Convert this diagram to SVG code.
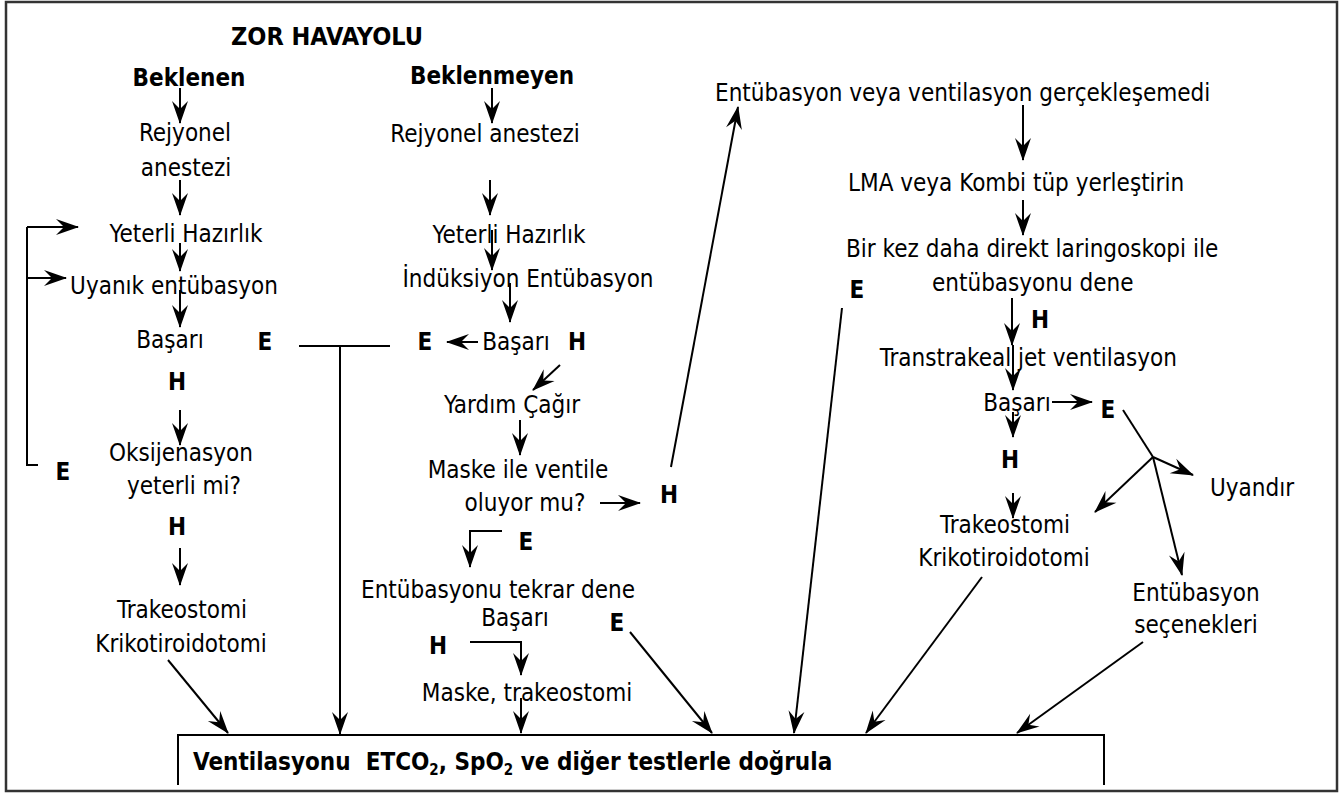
<svg xmlns="http://www.w3.org/2000/svg" width="1341" height="796" viewBox="0 0 1341 796">
<style>
text{font-family:"DejaVu Sans Condensed","DejaVu Sans",sans-serif;font-size:24px;fill:#000;text-anchor:middle}
.b{font-weight:bold}
.s{text-anchor:start}
.e{text-anchor:end}
.ln{stroke:#000;stroke-width:2;fill:none}
.ar{stroke:#000;stroke-width:2;fill:none;marker-end:url(#ah)}
</style>
<defs>
<marker id="ah" markerUnits="userSpaceOnUse" markerWidth="26" markerHeight="20" viewBox="-23 -10 25 20" refX="0" refY="0" orient="auto">
<path d="M1,0 L-22,-8 L-14,0 L-22,8 Z" fill="#000"/>
</marker>
</defs>
<rect x="6" y="2" width="1331" height="789" fill="#fff" stroke="#333" stroke-width="2.5"/>

<g id="title"><text x="327" y="45" class="b" style="font-size:25px">ZOR HAVAYOLU</text></g>

<g id="beklenen"><text x="189" y="86" class="b">Beklenen</text></g>
<g id="l-rejyonel"><text x="185" y="141">Rejyonel</text><text x="186" y="176">anestezi</text></g>
<g id="l-yeterli"><text x="186" y="242">Yeterli Hazırlık</text></g>
<g id="l-uyanik"><text x="174" y="294">Uyanık entübasyon</text></g>
<g id="l-basari"><text x="170" y="348">Başarı</text></g>
<g id="l-e1"><text x="265" y="350" class="b">E</text></g>
<g id="l-h1"><text x="177" y="390" class="b">H</text></g>
<g id="l-oksi"><text x="181" y="461">Oksijenasyon</text><text x="184" y="494">yeterli mi?</text></g>
<g id="l-e2"><text x="63" y="480" class="b">E</text></g>
<g id="l-h2"><text x="177" y="535" class="b">H</text></g>
<g id="l-trakeo"><text x="182" y="618">Trakeostomi</text><text x="181" y="652">Krikotiroidotomi</text></g>

<g id="beklenmeyen"><text x="492" y="84" class="b">Beklenmeyen</text></g>
<g id="m-rejyonel"><text x="485" y="142">Rejyonel anestezi</text></g>
<g id="m-yeterli"><text x="509" y="243">Yeterli Hazırlık</text></g>
<g id="m-induksiyon"><text x="528" y="287">İndüksiyon Entübasyon</text></g>
<g id="m-e1"><text x="425" y="350" class="b">E</text></g>
<g id="m-basari"><text x="516" y="350">Başarı</text></g>
<g id="m-h1"><text x="577" y="350" class="b">H</text></g>
<g id="m-yardim"><text x="512" y="413">Yardım Çağır</text></g>
<g id="m-maske"><text x="518" y="478">Maske ile ventile</text><text x="525" y="511">oluyor mu?</text></g>
<g id="m-h2"><text x="669" y="503" class="b">H</text></g>
<g id="m-e2"><text x="526" y="550" class="b">E</text></g>
<g id="m-tekrar"><text x="498" y="598">Entübasyonu tekrar dene</text><text x="515" y="626">Başarı</text></g>
<g id="m-e3"><text x="617" y="631" class="b">E</text></g>
<g id="m-h3"><text x="438" y="654" class="b">H</text></g>
<g id="m-maske2"><text x="527" y="701">Maske, trakeostomi</text></g>

<g id="r-gerc"><text x="715" y="101" class="s">Entübasyon veya ventilasyon gerçekleşemedi</text></g>
<g id="r-lma"><text x="848" y="191" class="s">LMA veya Kombi tüp yerleştirin</text></g>
<g id="r-bir"><text x="846" y="257" class="s">Bir kez daha direkt laringoskopi ile</text><text x="932" y="291" class="s">entübasyonu dene</text></g>
<g id="r-e1"><text x="857" y="298" class="b">E</text></g>
<g id="r-h1"><text x="1040" y="328" class="b">H</text></g>
<g id="r-trans"><text x="1177" y="366" class="e">Transtrakeal jet ventilasyon</text></g>
<g id="r-basari"><text x="1017" y="411">Başarı</text></g>
<g id="r-e2"><text x="1108" y="418" class="b">E</text></g>
<g id="r-h2"><text x="1010" y="468" class="b">H</text></g>
<g id="r-uyandir"><text x="1252" y="496">Uyandır</text></g>
<g id="r-trakeo"><text x="1005" y="533">Trakeostomi</text><text x="1004" y="566">Krikotiroidotomi</text></g>
<g id="r-secenek"><text x="1196" y="601">Entübasyon</text><text x="1196" y="633">seçenekleri</text></g>

<g id="verify">
<path d="M178,785 V735 H1104 V785" fill="none" stroke="#000" stroke-width="2"/>
<text x="193" y="770" class="b s">Ventilasyonu&#160; ETCO<tspan dy="5" style="font-size:15px">2</tspan><tspan dy="-5">, SpO</tspan><tspan dy="5" style="font-size:15px">2</tspan><tspan dy="-5"> ve diğer testlerle doğrula</tspan></text>
</g>

<g id="connectors">
<path class="ar" d="M180,88 V123"/>
<path class="ar" d="M180,180 V215"/>
<path class="ar" d="M180,243 V271"/>
<path class="ar" d="M180,290 V327"/>
<path class="ar" d="M180,410 V445"/>
<path class="ar" d="M180,548 V585"/>
<path class="ln" d="M38,465 H27 V227"/>
<path class="ar" d="M27,227 H78"/>
<path class="ar" d="M27,278 H66"/>
<path class="ar" d="M168,660 L228,733"/>
<path class="ln" d="M299,346 H390"/>
<path class="ar" d="M340,346 V734"/>

<path class="ar" d="M492,88 V123"/>
<path class="ar" d="M490,180 V215"/>
<path class="ar" d="M492,230 V270"/>
<path class="ar" d="M510,283 V322"/>
<path class="ar" d="M478,342 H447"/>
<path class="ar" d="M560,365 L533,390"/>
<path class="ar" d="M520,420 V455"/>
<path class="ar" d="M600,503 H640"/>
<path class="ar" d="M671,467 L738,107"/>
<path class="ar" d="M502,531 H470 V567"/>
<path class="ar" d="M470,642 H521 V675"/>
<path class="ar" d="M521,698 V733"/>
<path class="ar" d="M630,632 L712,733"/>

<path class="ar" d="M1023,105 V160"/>
<path class="ar" d="M1023,200 V235"/>
<path class="ar" d="M842,308 L794,733"/>
<path class="ar" d="M1012,298 V345"/>
<path class="ar" d="M1013,345 V390"/>
<path class="ar" d="M1052,402 H1092"/>
<path class="ar" d="M1013,412 V437"/>
<path class="ar" d="M1013,493 V518"/>
<path class="ln" d="M1123,410 L1153,457"/>
<path class="ar" d="M1153,457 L1193,475"/>
<path class="ar" d="M1153,457 L1095,512"/>
<path class="ar" d="M1153,457 L1182,575"/>
<path class="ar" d="M982,577 L866,733"/>
<path class="ar" d="M1143,642 L1017,733"/>
</g>
</svg>
